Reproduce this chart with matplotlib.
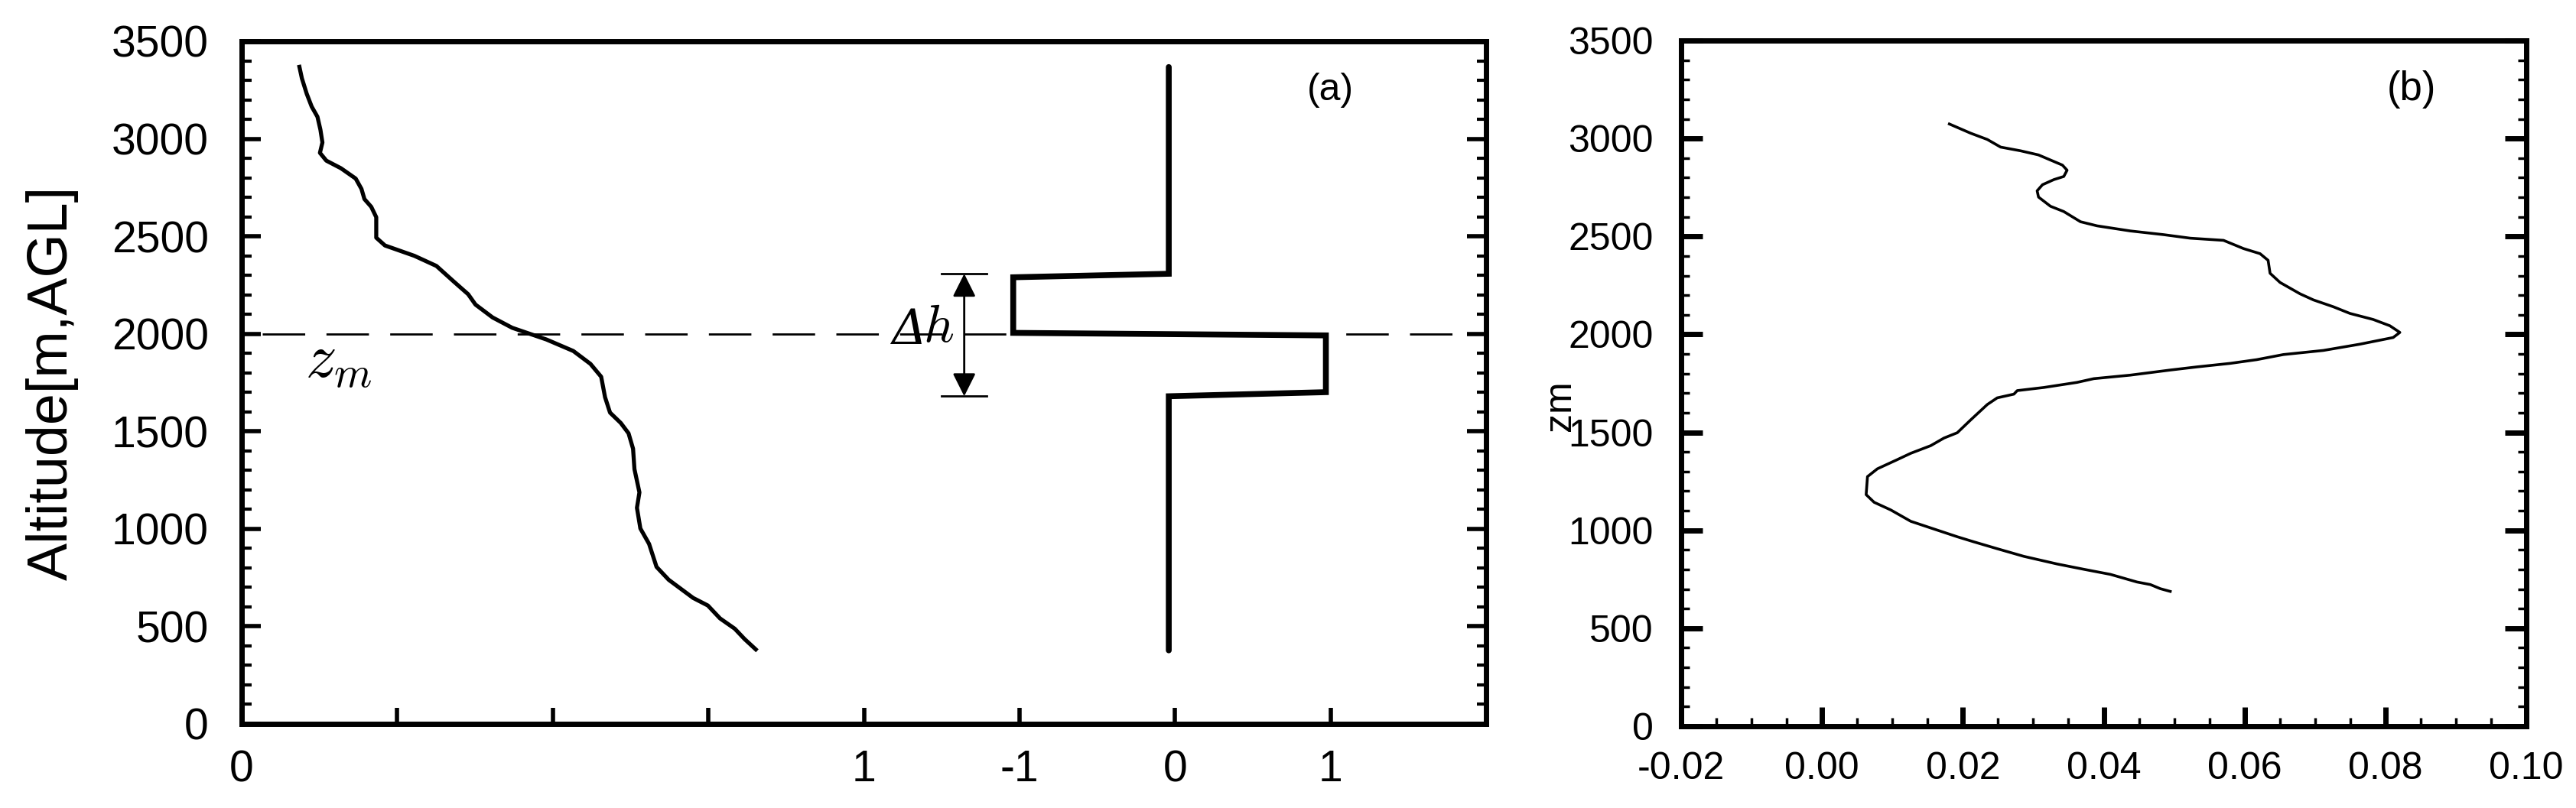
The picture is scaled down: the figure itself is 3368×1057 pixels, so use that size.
import matplotlib
matplotlib.use('Agg')
import matplotlib.pyplot as plt
from matplotlib.ticker import MultipleLocator

plt.rcParams['font.family'] = ['Liberation Sans', 'DejaVu Sans']
plt.rcParams['mathtext.fontset'] = 'cm'

# panel (a): mean profile (left) and the step perturbation (right)
prof_x = [0.371, 0.387, 0.418, 0.45, 0.487, 0.506, 0.519, 0.503, 0.544, 0.638, 0.733, 0.770,
          0.789, 0.833, 0.865, 0.865, 0.921, 1.110, 1.252, 1.362, 1.456, 1.503, 1.613, 1.739,
          1.959, 2.132, 2.242, 2.311, 2.336, 2.368, 2.437, 2.487, 2.516, 2.525, 2.557, 2.541,
          2.563, 2.619, 2.667, 2.745, 2.902, 2.997, 3.075, 3.170, 3.233, 3.305]
prof_z = [3369, 3310, 3231, 3165, 3113, 3047, 2981, 2928, 2888, 2849, 2796, 2743,
          2691, 2651, 2598, 2493, 2453, 2400, 2348, 2269, 2203, 2150, 2084, 2031,
          1971, 1912, 1846, 1780, 1675, 1596, 1543, 1490, 1411, 1306, 1187, 1108,
          1002, 923, 805, 739, 646, 607, 541, 488, 435, 382]

step_x = [5.96, 5.96, 4.96, 4.96, 6.97, 6.97, 5.96, 5.96]
step_z = [3368, 2308, 2290, 2005, 1992, 1701, 1680, 377]

zm = 2000
dh_top = 2308
dh_bot = 1680

a_ticks = [0, 1, 2, 3, 4, 5, 6, 7]
a_labels = ['0', '', '', '', '1', '-1', '0', '1']
z_ticks = [0, 500, 1000, 1500, 2000, 2500, 3000, 3500]

# panel (b)
b_x = [0.01808, 0.0211, 0.02347, 0.02536, 0.0282, 0.03074, 0.03244, 0.03414, 0.0348, 0.03433,
       0.03292, 0.03131, 0.03055, 0.03074, 0.03244, 0.03433, 0.0367, 0.03906, 0.04378, 0.04851,
       0.05229, 0.05701, 0.05985, 0.0622, 0.06334, 0.06362, 0.06504, 0.06788, 0.06977, 0.0726,
       0.07496, 0.07827, 0.08063, 0.08205, 0.0811, 0.07638, 0.07118, 0.06551, 0.06173, 0.05795,
       0.05323, 0.04945, 0.04378, 0.03859, 0.03622, 0.0315, 0.02772, 0.02725, 0.02488, 0.02347,
       0.0211, 0.01921, 0.01733, 0.01544, 0.0126, 0.01071, 0.00787, 0.00646, 0.00627, 0.0074,
       0.00976, 0.0126, 0.01544, 0.01921, 0.02157, 0.02488, 0.02866, 0.03339, 0.03717, 0.04095,
       0.04473, 0.04662, 0.04803, 0.04945]
b_z = [3074, 3027, 2995, 2956, 2937, 2916, 2890, 2864, 2838, 2806,
       2790, 2764, 2733, 2701, 2654, 2627, 2575, 2554, 2528, 2509,
       2491, 2480, 2438, 2412, 2378, 2312, 2265, 2207, 2176, 2141,
       2107, 2076, 2044, 2010, 1984, 1950, 1918, 1897, 1871, 1852,
       1834, 1818, 1792, 1774, 1755, 1729, 1713, 1695, 1676, 1642,
       1563, 1498, 1471, 1432, 1393, 1361, 1314, 1274, 1182, 1143,
       1104, 1046, 1012, 967, 941, 906, 867, 828, 801, 775,
       736, 723, 702, 688]
b_ticks = [-0.02, 0.0, 0.02, 0.04, 0.06, 0.08, 0.10]
b_labels = ['-0.02', '0.00', '0.02', '0.04', '0.06', '0.08', '0.10']

W, H = 3368, 1057
fig = plt.figure(figsize=(W / 100, H / 100), dpi=100)
axA = fig.add_axes([316 / W, 1 - 947 / H, (1943 - 316) / W, (947 - 54) / H])
axB = fig.add_axes([2198 / W, 1 - 950 / H, (3303 - 2198) / W, (950 - 53) / H])

# ---- (a)
axA.plot(prof_x, prof_z, color='black', lw=3.8, solid_joinstyle='round')
axA.plot(step_x, step_z, color='black', lw=5.5, solid_joinstyle='miter', solid_capstyle='round')
axA.plot([0.135, 7.9], [zm, zm], color='black', lw=2, dashes=(20, 10))

# delta h marker
axA.plot([4.50, 4.79], [dh_top, dh_top], color='black', lw=2)
axA.plot([4.50, 4.79], [dh_bot, dh_bot], color='black', lw=2)
axA.annotate('', xy=(4.645, dh_top), xytext=(4.645, dh_bot),
             arrowprops=dict(arrowstyle='<|-|>', color='black', lw=2,
                             mutation_scale=46, shrinkA=0, shrinkB=0))
axA.text(4.40, 2015, 'Δ', fontsize=46, ha='right', va='center',
         fontfamily='DejaVu Serif', fontstyle='italic')
axA.text(4.38, 2030, r'$h$', fontsize=50, ha='left', va='center')
axA.text(0.41, 1860, r'$z_m$', fontsize=58, ha='left', va='center')
axA.text(7.0, 3249, '(a)', fontsize=36, ha='center', va='center')

axA.set_xlim(0, 8)
axA.set_ylim(0, 3500)
axA.set_xticks(a_ticks, a_labels)
axA.set_yticks(z_ticks, [str(v) for v in z_ticks])
axA.yaxis.set_minor_locator(MultipleLocator(100))
axA.tick_params(axis='y', which='major', direction='in', length=18, width=4,
                left=True, right=True, labelsize=41, pad=31)
axA.tick_params(axis='y', which='minor', direction='in', length=9, width=3,
                left=True, right=True)
axA.tick_params(axis='x', which='major', direction='in', length=15, width=4,
                top=False, labelsize=41, pad=24)
axA.set_ylabel('Altitude[m,AGL]', fontsize=53)
axA.yaxis.set_label_coords(-0.131, 0.5)
for s in axA.spines.values():
    s.set_linewidth(5)

# ---- (b)
narrow = ['Liberation Sans Narrow', 'Liberation Sans']
axB.plot(b_x, b_z, color='black', lw=2.6)
axB.text(0.0837, 3249, '(b)', fontsize=38, ha='center', va='center', fontfamily=narrow)
axB.set_xlim(-0.02, 0.10)
axB.set_ylim(0, 3500)
axB.set_xticks(b_ticks, b_labels, fontfamily=narrow)
axB.set_yticks(z_ticks, [str(v) for v in z_ticks], fontfamily=narrow)
axB.xaxis.set_minor_locator(MultipleLocator(0.005))
axB.yaxis.set_minor_locator(MultipleLocator(100))
axB.tick_params(axis='y', which='major', direction='in', length=20, width=5,
                left=True, right=True, labelsize=36, pad=26)
axB.tick_params(axis='y', which='minor', direction='in', length=8, width=2.5,
                left=True, right=True)
axB.tick_params(axis='x', which='major', direction='in', length=18, width=5,
                top=False, labelsize=36, pad=24)
axB.tick_params(axis='x', which='minor', direction='in', length=8, width=2.5, top=False)
axB.set_ylabel('zm', fontsize=36, fontfamily=narrow)
axB.yaxis.set_label_coords(-0.122, 0.467)
for s in axB.spines.values():
    s.set_linewidth(5)

fig.savefig('out.png', dpi=100)
